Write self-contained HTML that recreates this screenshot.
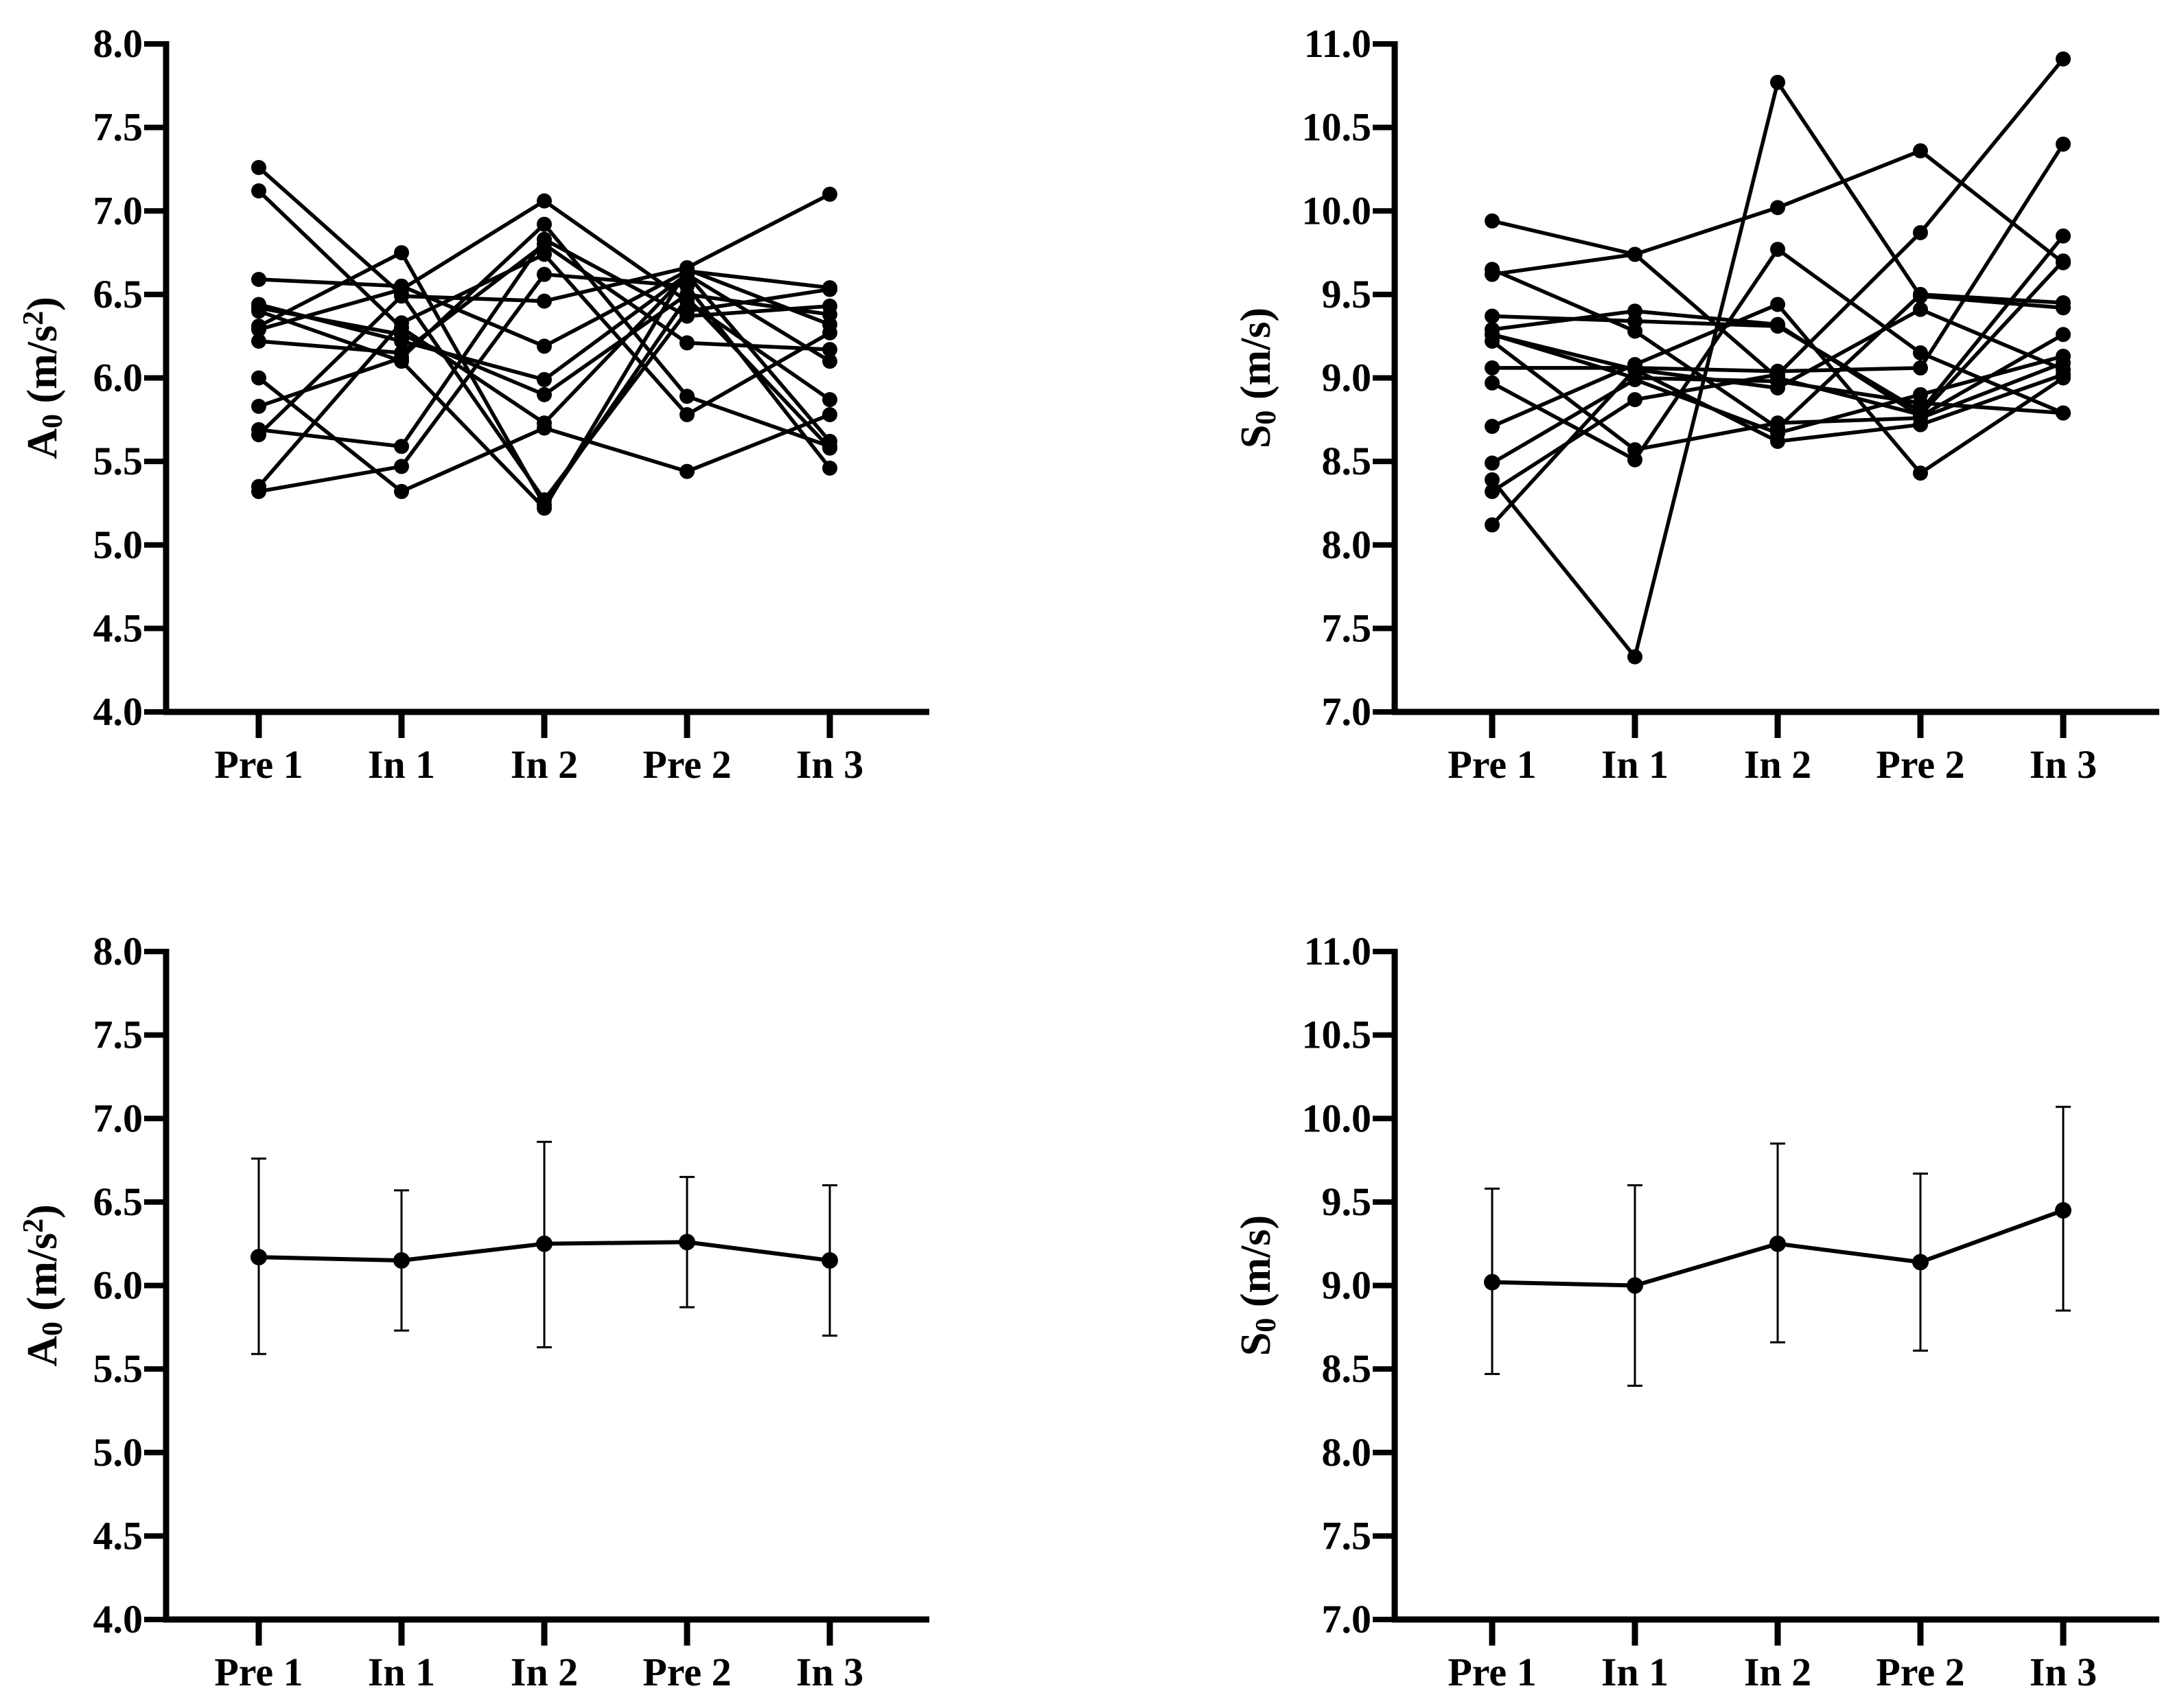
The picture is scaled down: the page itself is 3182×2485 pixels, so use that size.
<!DOCTYPE html>
<html><head><meta charset="utf-8"><style>
html,body{margin:0;padding:0;background:#fff;}
svg{display:block;}
text{font-family:"Liberation Serif",serif;font-weight:bold;fill:#000;}
</style></head><body>
<svg id="fig" width="3182" height="2485" viewBox="0 0 3182 2485" xmlns="http://www.w3.org/2000/svg"></svg>
<script>
const categories = ["Pre 1","In 1","In 2","Pre 2","In 3"];
const a0Ticks = ["4.0","4.5","5.0","5.5","6.0","6.5","7.0","7.5","8.0"];
const s0Ticks = ["7.0","7.5","8.0","8.5","9.0","9.5","10.0","10.5","11.0"];
const a0Individual = [
 [7.26,6.50,5.27,6.40,6.53],
 [7.12,6.30,5.73,6.62,5.62],
 [6.59,6.55,6.19,6.64,6.54],
 [6.44,6.22,5.99,6.62,6.10],
 [6.42,6.26,5.90,6.50,6.38],
 [6.31,6.75,5.24,6.48,5.58],
 [6.29,6.53,7.06,6.46,5.87],
 [6.22,6.15,6.80,6.21,6.17],
 [6.00,5.32,5.70,5.44,5.78],
 [5.83,6.12,6.92,5.89,5.59],
 [5.69,5.59,6.83,6.37,6.43],
 [5.66,6.49,6.46,6.66,7.10],
 [5.35,6.33,6.74,5.78,6.27],
 [5.32,5.47,6.62,6.55,5.46],
 [6.40,6.10,5.22,6.65,6.32]
];
const s0Individual = [
 [9.94,9.74,9.00,8.78,9.70],
 [9.62,9.74,10.02,10.36,9.69],
 [9.65,9.28,8.70,9.50,9.45],
 [9.37,9.34,9.31,8.80,9.85],
 [9.29,9.40,9.32,8.77,9.26],
 [9.26,9.05,8.94,9.41,9.05],
 [9.22,8.57,8.73,8.76,9.09],
 [9.06,9.06,9.04,9.06,10.40],
 [8.97,8.51,9.77,9.15,8.79],
 [8.71,9.08,9.44,8.43,9.00],
 [8.39,7.33,10.77,9.49,9.42],
 [8.49,8.99,8.67,8.90,9.13],
 [8.32,8.87,9.02,9.87,10.91],
 [8.12,9.05,8.62,8.72,9.02],
 [9.26,9.00,8.98,8.85,8.79]
];
const a0Mean = [6.17,6.15,6.25,6.26,6.15];
const a0Lower = [5.59,5.73,5.63,5.87,5.70];
const a0Upper = [6.76,6.57,6.86,6.65,6.60];
const s0Mean = [9.02,9.00,9.25,9.14,9.45];
const s0Lower = [8.47,8.40,8.66,8.61,8.85];
const s0Upper = [9.58,9.60,9.85,9.67,10.07];

const NS="http://www.w3.org/2000/svg";
const svg=document.getElementById('fig');
function mk(tag,attrs,parent){const e=document.createElementNS(NS,tag);for(const k in attrs)e.setAttribute(k,attrs[k]);(parent||svg).appendChild(e);return e;}

function panel(cfg){
  const g=mk('g',{});
  
  
  const ymin=parseFloat(cfg.ticks[0]), ymax=parseFloat(cfg.ticks[cfg.ticks.length-1]);
  const yS=v=>cfg.yBottom-(v-ymin)/(ymax-ymin)*(cfg.yBottom-cfg.yTop);
  const xS=i=>cfg.x0+i*cfg.dx;
  const ya=mk('line',{x1:cfg.axisX,y1:cfg.yTop-4,x2:cfg.axisX,y2:cfg.yBottom+4,stroke:'#000','stroke-width':9},g);
  
  
  const xa=mk('line',{x1:cfg.axisX-4,y1:cfg.yBottom,x2:cfg.xEnd,y2:cfg.yBottom,stroke:'#000','stroke-width':9},g);
  
  
  cfg.ticks.forEach(t=>{
    const y=yS(parseFloat(t));
    mk('line',{x1:cfg.axisX-32,y1:y,x2:cfg.axisX,y2:y,stroke:'#000','stroke-width':8},g);
    const tx=mk('text',{x:cfg.axisX-34,y:y+19,'font-size':58,'text-anchor':'end'},g);
    tx.textContent=t;
    
    
  });
  categories.forEach((c,i)=>{
    const x=xS(i);
    mk('line',{x1:x,y1:cfg.yBottom,x2:x,y2:cfg.yBottom+38,stroke:'#000','stroke-width':9},g);
    const tx=mk('text',{x:x,y:cfg.yBottom+96,'font-size':58,'text-anchor':'middle'},g);
    tx.textContent=c;
    
    
  });
  const cy=(cfg.yTop+cfg.yBottom)/2;
  const tt=mk('text',{x:cfg.titleX,y:cy,'font-size':62,'text-anchor':'middle',transform:`rotate(-90 ${cfg.titleX} ${cy})`},g);
  
  
  tt.innerHTML=cfg.letter+'<tspan font-size="42" dy="8">0</tspan><tspan dy="-8"> (m/s</tspan>'+(cfg.sq?'<tspan font-size="42" dy="-20">2</tspan><tspan dy="20">)</tspan>':'<tspan>)</tspan>');
  if(cfg.individual){
    cfg.individual.forEach((s,k)=>{
      const p=mk('polyline',{points:s.map((v,i)=>xS(i)+','+yS(v)).join(' '),fill:'none',stroke:'#000','stroke-width':5.5,'stroke-linejoin':'round'},g);
      
      
      s.forEach((v,i)=>{
        const c=mk('circle',{cx:xS(i),cy:yS(v),r:11,fill:'#000'},g);
        
        
      });
    });
  } else {
    cfg.mean.forEach((m,i)=>{
      const x=xS(i);
      const eb=mk('path',{d:`M${x},${yS(cfg.lower[i])}V${yS(cfg.upper[i])}M${x-11},${yS(cfg.upper[i])}H${x+11}M${x-11},${yS(cfg.lower[i])}H${x+11}`,stroke:'#000','stroke-width':3,fill:'none'},g);
      
      
    });
    const p=mk('polyline',{points:cfg.mean.map((v,i)=>xS(i)+','+yS(v)).join(' '),fill:'none',stroke:'#000','stroke-width':6},g);
    
    
    cfg.mean.forEach((v,i)=>{
      const c=mk('circle',{cx:xS(i),cy:yS(v),r:12,fill:'#000'},g);
      
      
    });
  }
}
panel({name:'a0-individual-chart',ticks:a0Ticks,yTop:64,yBottom:1037,axisX:242,xEnd:1354,x0:377,dx:208,titleX:82,letter:'A',sq:true,individual:a0Individual});
panel({name:'s0-individual-chart',ticks:s0Ticks,yTop:64,yBottom:1037,axisX:2032,xEnd:3146,x0:2174,dx:208,titleX:1850,letter:'S',sq:false,individual:s0Individual});
panel({name:'a0-mean-chart',ticks:a0Ticks,yTop:1386,yBottom:2359,axisX:242,xEnd:1354,x0:377,dx:208,titleX:82,letter:'A',sq:true,mean:a0Mean,lower:a0Lower,upper:a0Upper});
panel({name:'s0-mean-chart',ticks:s0Ticks,yTop:1386,yBottom:2359,axisX:2032,xEnd:3146,x0:2174,dx:208,titleX:1850,letter:'S',sq:false,mean:s0Mean,lower:s0Lower,upper:s0Upper});
</script>
</body></html>
